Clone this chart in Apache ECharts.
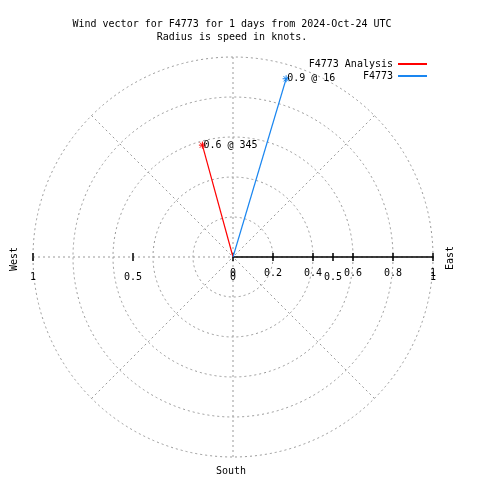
<!DOCTYPE html>
<html><head><meta charset="utf-8">
<script src="https://cdn.jsdelivr.net/npm/echarts@6/dist/echarts.min.js"></script>
<style>html,body{margin:0;padding:0;background:#fff}#c{width:480px;height:480px}</style>
</head><body><div id="c"></div>
<script>
// ---- data ----
const seriesNames = ['F4773 Analysis', 'F4773'];
const speeds = [0.58, 0.93];          // knots (radius)
const directions = [344.7, 16.6];     // compass degrees
const pointLabels = ['0.6 @ 345', '0.9 @ 16'];
const colors = ['#ff0000', '#1a86f0'];
const radiusTickLabels = ['0', '0.2', '0.4', '0.6', '0.8', '1'];
const xTickLabels = ['1', '0.5', '0', '0.5', '1'];
const titleLines = ['Wind vector for F4773 for 1 days from 2024-Oct-24 UTC', 'Radius is speed in knots.'];
const compassNames = ['West', 'East', 'South'];

// ---- chart ----
const FONT = 'DejaVu Sans Mono';
const CX = 233, CY = 257, R = 200;
const toAngle = c => (c + 270) % 360;
const star = 'path://M0,4L8,4M4,0L4,8M1,1L7,7M7,1L1,7';
const gridGray = {color: '#999999', width: 1, type: [2, 3]};

const chart = echarts.init(document.getElementById('c'), null, {renderer: 'canvas'});
chart.setOption({
  animation: false,
  backgroundColor: '#fff',
  title: {
    text: titleLines.join('\n'),
    left: 227, top: 13, textAlign: 'center',
    textStyle: {fontFamily: FONT, fontSize: 10, fontWeight: 'normal', color: '#000', lineHeight: 13}
  },
  legend: {
    data: seriesNames,
    orient: 'vertical', align: 'right',
    right: 53, top: 58, padding: 0,
    itemWidth: 29, itemHeight: 2, itemGap: 0,
    icon: 'rect',
    itemStyle: {borderWidth: 0},
    lineStyle: {width: 0},
    textStyle: {fontFamily: FONT, fontSize: 10, color: '#000', lineHeight: 12}
  },
  polar: {center: [CX, CY], radius: R},
  angleAxis: {
    type: 'value', min: 0, max: 360, interval: 45, startAngle: 0, clockwise: true,
    axisLine: {show: false}, axisTick: {show: false}, axisLabel: {show: false},
    splitLine: {show: true, lineStyle: gridGray}
  },
  radiusAxis: {
    type: 'value', min: 0, max: 1, interval: 0.2,
    axisLine: {show: true, lineStyle: {color: '#000', width: 1.5}},
    axisTick: {show: false}, axisLabel: {show: false},
    splitLine: {show: true, lineStyle: gridGray}
  },
  grid: [
    {left: CX - R, top: CY - 4, width: 2 * R, height: 8},
    {left: CX, top: CY - 4, width: R, height: 8}
  ],
  xAxis: [
    {
      gridIndex: 0, type: 'value', min: -1, max: 1, interval: 0.5,
      axisLine: {show: false},
      axisTick: {show: true, inside: true, length: 8, lineStyle: {color: '#000', width: 1.5}},
      axisLabel: {margin: 11, fontFamily: FONT, fontSize: 10, color: '#000',
        formatter: (v) => xTickLabels[Math.round((v + 1) / 0.5)]},
      splitLine: {show: false}
    },
    {
      gridIndex: 1, type: 'value', min: 0, max: 1, interval: 0.2,
      axisLine: {show: false},
      axisTick: {show: true, inside: true, length: 8, lineStyle: {color: '#000', width: 1.5}},
      axisLabel: {margin: 7, fontFamily: FONT, fontSize: 10, color: '#000',
        formatter: (v) => radiusTickLabels[Math.round(v / 0.2)]},
      splitLine: {show: false}
    }
  ],
  yAxis: [
    {gridIndex: 0, type: 'value', show: false},
    {gridIndex: 1, type: 'value', show: false}
  ],
  series: seriesNames.map((name, i) => ({
    type: 'line', name, coordinateSystem: 'polar', z: 5,
    symbol: star, symbolSize: 7,
    lineStyle: {color: colors[i], width: 1.2},
    itemStyle: {color: colors[i], borderColor: colors[i], borderWidth: 1},
    emphasis: {disabled: true},
    data: [
      {value: [0, toAngle(directions[i])], symbol: 'none'},
      {value: [speeds[i], toAngle(directions[i])],
       label: {show: true, position: 'right', distance: -3, formatter: pointLabels[i],
               fontFamily: FONT, fontSize: 10, color: '#000'}}
    ]
  })),
  graphic: [
    {type: 'text', x: 14, y: 259, rotation: Math.PI / 2,
     style: {text: compassNames[0], font: '10px ' + FONT, fill: '#000', textAlign: 'center', textVerticalAlign: 'middle'}},
    {type: 'text', x: 450, y: 258, rotation: Math.PI / 2,
     style: {text: compassNames[1], font: '10px ' + FONT, fill: '#000', textAlign: 'center', textVerticalAlign: 'middle'}},
    {type: 'text', x: 231, y: 471,
     style: {text: compassNames[2], font: '10px ' + FONT, fill: '#000', textAlign: 'center', textVerticalAlign: 'middle'}}
  ]
});
</script></body></html>
